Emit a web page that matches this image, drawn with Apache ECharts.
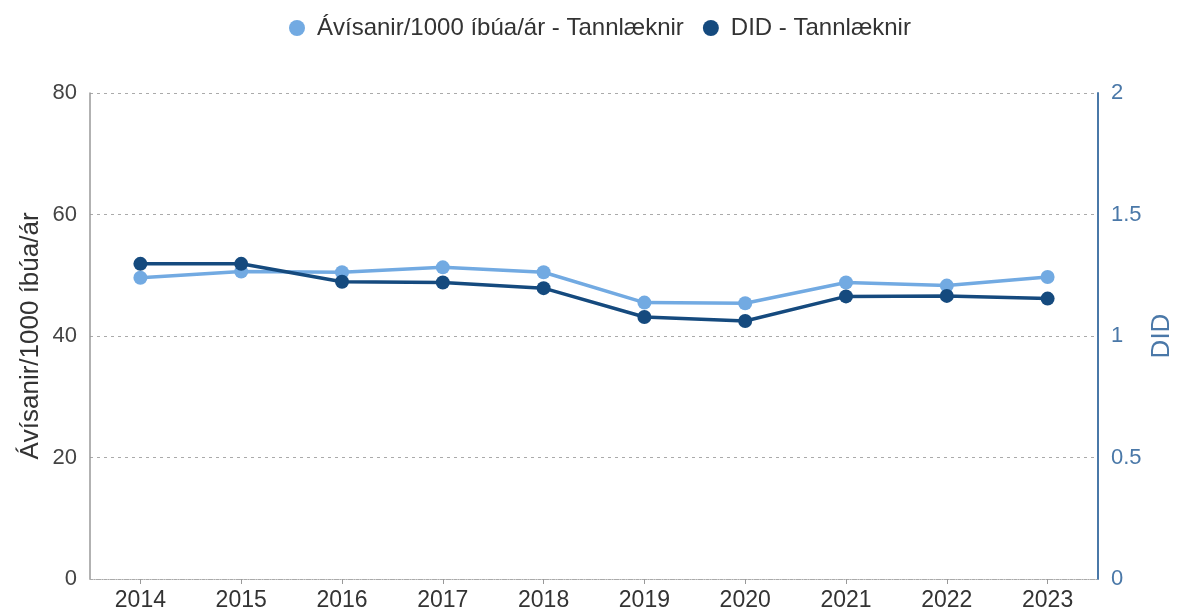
<!DOCTYPE html>
<html>
<head>
<meta charset="utf-8">
<script src="https://cdn.jsdelivr.net/npm/echarts@6/dist/echarts.min.js"></script>
<style>
  html, body { margin: 0; padding: 0; background: #fff; }
  #main { width: 1177px; height: 612px; }
</style>
</head>
<body>
<div id="main"></div>
<script>
// gögn
var years = ['2014', '2015', '2016', '2017', '2018', '2019', '2020', '2021', '2022', '2023'];
var avisanir = [49.6, 50.6, 50.5, 51.3, 50.5, 45.5, 45.4, 48.8, 48.3, 49.7];
var did = [1.297, 1.297, 1.223, 1.220, 1.197, 1.078, 1.062, 1.163, 1.165, 1.154];
var leftTicks = [0, 20, 40, 60, 80];
var rightTicks = [0, 0.5, 1, 1.5, 2];

var lightBlue = '#72aae2';
var darkBlue = '#154a7e';
var axisBlue = '#4a78a8';
var font = 'Liberation Sans, Arial, sans-serif';

var chart = echarts.init(document.getElementById('main'));

var option = {
  animation: false,
  textStyle: { fontFamily: font },
  legend: {
    top: 11,
    left: 284,
    itemWidth: 16,
    itemHeight: 16,
    itemGap: 19,
    icon: 'circle',
    textStyle: { fontSize: 24, color: '#333', fontFamily: font, padding: [0, 0, 0, 7] },
    data: ['Ávísanir/1000 íbúa/ár - Tannlæknir', 'DID - Tannlæknir']
  },
  grid: { left: 90, right: 79, top: 93, bottom: 33, outerBoundsMode: 'none', containLabel: false },
  xAxis: {
    type: 'category',
    data: years,
    boundaryGap: true,
    axisLine: { show: true, lineStyle: { color: '#aaa', type: 'dotted', width: 1 } },
    axisTick: { show: true, alignWithLabel: true, length: 5, lineStyle: { color: '#999' } },
    axisLabel: { fontSize: 23, color: '#333', margin: 10, fontFamily: font }
  },
  yAxis: [
    {
      type: 'value',
      min: leftTicks[0],
      max: leftTicks[leftTicks.length - 1],
      interval: 20,
      position: 'left',
      name: 'Ávísanir/1000 íbúa/ár',
      nameLocation: 'middle',
      nameGap: 46,
      nameMoveOverlap: false,
      nameTextStyle: { fontSize: 26, color: '#333', fontFamily: font },
      axisLine: { show: true, lineStyle: { color: '#999', width: 1.5 } },
      axisTick: { show: false },
      axisLabel: { fontSize: 22, color: '#444', margin: 13, fontFamily: font },
      splitLine: { show: true, lineStyle: { color: '#aaa', type: [3, 4], width: 1.2 } }
    },
    {
      type: 'value',
      min: rightTicks[0],
      max: rightTicks[rightTicks.length - 1],
      interval: 0.5,
      position: 'right',
      name: 'DID',
      nameLocation: 'middle',
      nameGap: 51,
      nameMoveOverlap: false,
      nameTextStyle: { fontSize: 26, color: axisBlue, fontFamily: font },
      axisLine: { show: true, lineStyle: { color: axisBlue, width: 2 } },
      axisTick: { show: false },
      axisLabel: { fontSize: 22, color: axisBlue, margin: 13, fontFamily: font },
      splitLine: { show: false }
    }
  ],
  series: [
    {
      name: 'Ávísanir/1000 íbúa/ár - Tannlæknir',
      type: 'line',
      yAxisIndex: 0,
      data: avisanir,
      color: lightBlue,
      symbol: 'circle',
      symbolSize: 14,
      lineStyle: { width: 3.5, color: lightBlue },
      itemStyle: { color: lightBlue }
    },
    {
      name: 'DID - Tannlæknir',
      type: 'line',
      yAxisIndex: 1,
      data: did,
      color: darkBlue,
      symbol: 'circle',
      symbolSize: 14,
      lineStyle: { width: 3.5, color: darkBlue },
      itemStyle: { color: darkBlue }
    }
  ]
};

chart.setOption(option);
</script>
</body>
</html>
